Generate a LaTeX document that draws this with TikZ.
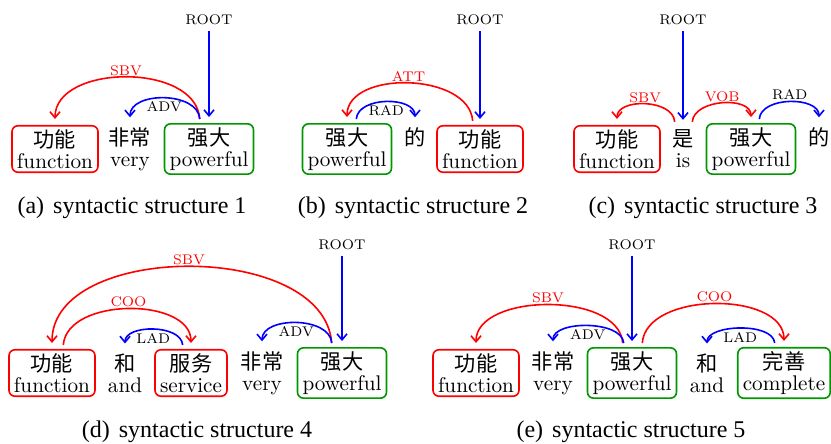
\documentclass[tikz,border=0pt]{standalone}
\usepackage{fontspec}
\usepackage{xcolor}
\newfontfamily\zh{Noto Sans CJK SC}
\newfontfamily\capfont{Liberation Serif}
\usetikzlibrary{arrows.meta, calc}
\definecolor{depred}  {RGB}{255,0,0}
\definecolor{depblue} {RGB}{0,0,255}
\definecolor{depgreen}{RGB}{0,150,0}

\tikzset{
  word/.style={align=center, inner xsep=2.5pt, inner ysep=1.8pt,
               font=\fontsize{10.6}{10.6}\selectfont},
  headword/.style={word, draw, rounded corners=3pt, line width=0.8pt},
  deplab/.style={font=\scriptsize, inner sep=1pt, text=black},
  dep/.style={line width=0.8pt, -{Straight Barb[length=3pt,width=5pt]},
              shorten <=2pt, shorten >=3pt},
  subcap/.style={font=\capfont\fontsize{12}{14}\selectfont}
}

\begin{document}
\begin{tikzpicture}[x=0.5pt, y=-0.5pt]
  \useasboundingbox (0,0) rectangle (831,444);

  % (a)
  \node[headword, draw=depred]   (a-fn) at (55,149)  {{\zh 功能}\\function};
  \node[word]                    (a-vr) at (130,149) {{\zh 非常}\\very};
  \node[headword, draw=depgreen] (a-pw) at (209,149) {{\zh 强大}\\powerful};
  \node[deplab] (a-root) at (209,20) {ROOT};
  \draw[dep, depblue] (a-root) -- (a-pw);
  \draw[dep, depred] ($(a-pw.north)+(-9,0)$) .. controls +(-4,-61) and +(0,-61) .. (a-fn.north)
    node[midway, deplab, above, text=depred] {SBV};
  \draw[dep, depblue] ($(a-pw.north)+(-9,0)$) .. controls +(-2,-32) and +(0,-32) .. (a-vr.north)
    node[midway, deplab, below] {ADV};
  \node[subcap] (a-cap) at (132,208) {(a)\hspace{4.5pt}syntactic structure 1};

  % (b)
  \node[headword, draw=depgreen] (b-pw) at (347,149) {{\zh 强大}\\powerful};
  \node[word]                    (b-de) at (415,149) {{\zh 的}\\\phantom{y}};
  \node[headword, draw=depred]   (b-fn) at (480,149) {{\zh 功能}\\function};
  \node[deplab] (b-root) at (480,20) {ROOT};
  \draw[dep, depblue] (b-root) -- (b-fn);
  \draw[dep, depred] ($(b-fn.north)+(-7,0)$) .. controls +(-4,-53) and +(0,-53) .. (b-pw.north)
    node[midway, deplab, above, text=depred] {ATT};
  \draw[dep, depblue] ($(b-pw.north)+(9,0)$) .. controls +(2,-27) and +(0,-27) .. (b-de.north)
    node[midway, deplab, below] {RAD};
  \node[subcap] (b-cap) at (413,208) {(b)\hspace{4.5pt}syntactic structure 2};

  % (c)
  \node[headword, draw=depred]   (c-fn) at (617,149) {{\zh 功能}\\function};
  \node[word]                    (c-is) at (683,149) {{\zh 是}\\is};
  \node[headword, draw=depgreen] (c-pw) at (751,149) {{\zh 强大}\\powerful};
  \node[word]                    (c-de) at (819,149) {{\zh 的}\\\phantom{y}};
  \node[deplab] (c-root) at (683,20) {ROOT};
  \draw[dep, depblue] (c-root) -- (c-is);
  \draw[dep, depred] ($(c-is.north)+(-8,0)$) .. controls +(-2,-27) and +(0,-27) .. (c-fn.north)
    node[midway, deplab, above, text=depred] {SBV};
  \draw[dep, depred] ($(c-is.north)+(9,0)$) .. controls +(2,-27) and +(0,-27) .. (c-pw.north)
    node[midway, deplab, above, text=depred] {VOB};
  \draw[dep, depblue] ($(c-pw.north)+(8,0)$) .. controls +(2,-27) and +(0,-27) .. (c-de.north)
    node[midway, deplab, above] {RAD};
  \node[subcap] (c-cap) at (703,208) {(c)\hspace{4.5pt}syntactic structure 3};

  % (d)
  \node[headword, draw=depred]   (d-fn) at (52,373)  {{\zh 功能}\\function};
  \node[word]                    (d-he) at (125,373) {{\zh 和}\\and};
  \node[headword, draw=depred]   (d-sv) at (191,373) {{\zh 服务}\\service};
  \node[word]                    (d-vr) at (262,373) {{\zh 非常}\\very};
  \node[headword, draw=depgreen] (d-pw) at (342,373) {{\zh 强大}\\powerful};
  \node[deplab] (d-root) at (342,245) {ROOT};
  \draw[dep, depblue] (d-root) -- (d-pw);
  \draw[dep, depred] ($(d-pw.north)+(-10,0)$) .. controls +(-8,-107) and +(0,-107) .. (d-fn.north)
    node[midway, deplab, above, text=depred] {SBV};
  \draw[dep, depred] ($(d-fn.north)+(11,0)$) .. controls +(4,-52) and +(0,-52) .. (d-sv.north)
    node[midway, deplab, above, text=depred] {COO};
  \draw[dep, depblue] ($(d-sv.north)+(-8,0)$) .. controls +(-2,-25) and +(0,-25) .. (d-he.north)
    node[midway, deplab, below] {LAD};
  \draw[dep, depblue] ($(d-pw.north)+(-10,0)$) .. controls +(-2,-31) and +(0,-31) .. (d-vr.north)
    node[midway, deplab, below] {ADV};
  \node[subcap] (d-cap) at (197,432) {(d)\hspace{4.5pt}syntactic structure 4};

  % (e)
  \node[headword, draw=depred]   (e-fn) at (476,373) {{\zh 功能}\\function};
  \node[word]                    (e-vr) at (553,373) {{\zh 非常}\\very};
  \node[headword, draw=depgreen] (e-pw) at (632,373) {{\zh 强大}\\powerful};
  \node[word]                    (e-he) at (707,373) {{\zh 和}\\and};
  \node[headword, draw=depgreen] (e-cp) at (784,373) {{\zh 完善}\\complete};
  \node[deplab] (e-root) at (632,245) {ROOT};
  \draw[dep, depblue] (e-root) -- (e-pw);
  \draw[dep, depred] ($(e-pw.north)+(-9,0)$) .. controls +(-4,-56) and +(0,-56) .. (e-fn.north)
    node[midway, deplab, above, text=depred] {SBV};
  \draw[dep, depblue] ($(e-pw.north)+(-8,0)$) .. controls +(-2,-27) and +(0,-27) .. (e-vr.north)
    node[midway, deplab, below] {ADV};
  \draw[dep, depred] ($(e-pw.north)+(10,0)$) .. controls +(4,-56) and +(0,-56) .. (e-cp.north)
    node[midway, deplab, above, text=depred] {COO};
  \draw[dep, depblue] ($(e-cp.north)+(-9,0)$) .. controls +(-2,-25) and +(0,-25) .. (e-he.north)
    node[midway, deplab, below] {LAD};
  \node[subcap] (e-cap) at (631,432) {(e)\hspace{4.5pt}syntactic structure 5};
\end{tikzpicture}
\end{document}
